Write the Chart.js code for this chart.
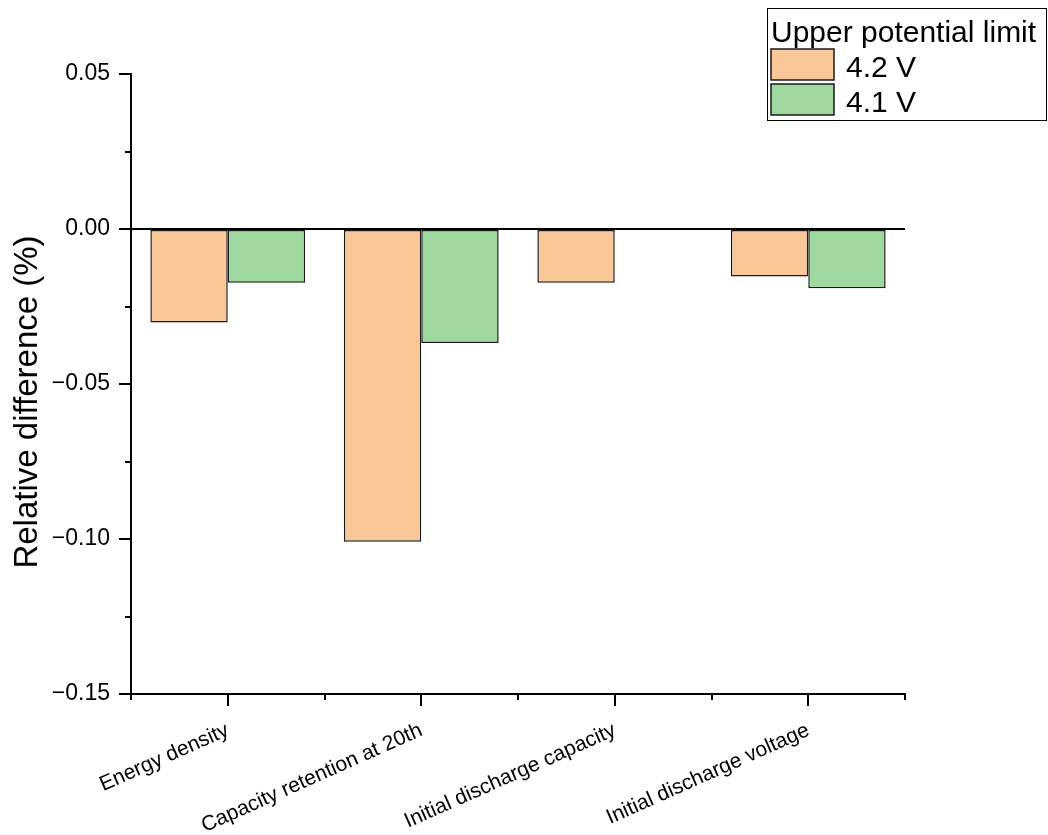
<!DOCTYPE html>
<html>
<head>
<meta charset="utf-8">
<script src="https://cdn.jsdelivr.net/npm/chart.js@4.4.1/dist/chart.umd.min.js"></script>
<style>
  html, body { margin: 0; padding: 0; background: #ffffff; }
  #wrap { width: 1048px; height: 835px; }
</style>
</head>
<body>
<div id="wrap"><canvas id="chart" width="1048" height="835"></canvas></div>
<script>
// Relative difference of each cell property, per upper potential limit
const categories = [
  'Energy density',
  'Capacity retention at 20th',
  'Initial discharge capacity',
  'Initial discharge voltage'
];
const seriesNames = ['4.2 V', '4.1 V'];
const values42 = [-0.0302, -0.1009, -0.0173, -0.0153];
const values41 = [-0.0173, -0.0368, null, -0.0191];

const yMin = -0.15;
const yMax = 0.05;
const yStep = 0.05;

const legendTitle = 'Upper potential limit';
const yTitle = 'Relative difference (%)';

const FONT = '"Liberation Sans", Arial, sans-serif';
const INK = '#000000';
const BAR_EDGE = '#1a1a1a';
const COLORS = ['#FAC898', '#9ED89E'];

function fmtTick(v) {
  if (Math.abs(v) < 1e-9) v = 0;
  return v.toFixed(2).replace('-', '\u2212');
}

// Minor tick marks between the labelled ones on both axes
const minorTicks = {
  id: 'minorTicks',
  afterDraw(chart) {
    const ctx = chart.ctx;
    const x = chart.scales.x, y = chart.scales.y;
    ctx.save();
    ctx.strokeStyle = INK;
    ctx.lineWidth = 2;
    ctx.beginPath();
    for (let i = 0; i <= categories.length; i++) {
      const px = Math.round(x.getPixelForValue(i - 0.5));
      ctx.moveTo(px, y.bottom);
      ctx.lineTo(px, y.bottom + 6);
    }
    for (let v = yMin + yStep / 2; v < yMax; v += yStep) {
      const py = Math.round(y.getPixelForValue(v));
      ctx.moveTo(x.left, py);
      ctx.lineTo(x.left - 6, py);
    }
    ctx.stroke();
    ctx.restore();
  }
};

// Baseline at zero drawn over the bars
const zeroLine = {
  id: 'zeroLine',
  afterDatasetsDraw(chart) {
    const ctx = chart.ctx;
    const area = chart.chartArea;
    const py = Math.round(chart.scales.y.getPixelForValue(0));
    ctx.save();
    ctx.strokeStyle = INK;
    ctx.lineWidth = 2;
    ctx.beginPath();
    ctx.moveTo(area.left, py);
    ctx.lineTo(area.right, py);
    ctx.stroke();
    ctx.restore();
  }
};

// Vertical axis title
const axisTitle = {
  id: 'axisTitle',
  afterDraw(chart) {
    const ctx = chart.ctx;
    ctx.save();
    ctx.translate(28, 402);
    ctx.rotate(-Math.PI / 2);
    ctx.font = '33px ' + FONT;
    ctx.fillStyle = INK;
    ctx.textAlign = 'center';
    ctx.textBaseline = 'middle';
    ctx.fillText(yTitle, 0, 0);
    ctx.restore();
  }
};

// Boxed legend with a title row and one swatch row per series
const boxLegend = {
  id: 'boxLegend',
  afterDraw(chart) {
    const ctx = chart.ctx;
    const bx = 767, by = 8, bw = 279, bh = 112;
    ctx.save();
    ctx.fillStyle = '#ffffff';
    ctx.fillRect(bx, by, bw, bh);
    ctx.strokeStyle = INK;
    ctx.lineWidth = 1;
    ctx.strokeRect(bx + 0.5, by + 0.5, bw, bh);
    ctx.font = '30px ' + FONT;
    ctx.fillStyle = INK;
    ctx.textAlign = 'left';
    ctx.textBaseline = 'alphabetic';
    ctx.fillText(legendTitle, 771, 42);
    chart.data.datasets.forEach((ds, i) => {
      const sy = 49 + i * 35;
      ctx.fillStyle = ds.backgroundColor;
      ctx.fillRect(771, sy, 63, 31);
      ctx.strokeStyle = BAR_EDGE;
      ctx.lineWidth = 1.5;
      ctx.strokeRect(771, sy, 63, 31);
      ctx.fillStyle = INK;
      ctx.fillText(ds.label, 846, sy + 28);
    });
    ctx.restore();
  }
};

new Chart(document.getElementById('chart'), {
  type: 'bar',
  data: {
    labels: categories,
    datasets: [
      {
        label: seriesNames[0],
        data: values42,
        backgroundColor: COLORS[0],
        borderColor: BAR_EDGE,
        borderWidth: 1.5,
        borderSkipped: false
      },
      {
        label: seriesNames[1],
        data: values41,
        backgroundColor: COLORS[1],
        borderColor: BAR_EDGE,
        borderWidth: 1.5,
        borderSkipped: false
      }
    ]
  },
  options: {
    responsive: false,
    animation: false,
    devicePixelRatio: 1,
    layout: { padding: { left: 0, top: 74, right: 143, bottom: 0 } },
    datasets: { bar: { categoryPercentage: 0.8, barPercentage: 1.0 } },
    plugins: {
      legend: { display: false },
      title: { display: false },
      tooltip: { enabled: false }
    },
    scales: {
      x: {
        type: 'category',
        offset: true,
        afterFit(scale) { scale.height = 141; },
        grid: {
          display: true,
          offset: false,
          drawOnChartArea: false,
          drawTicks: true,
          tickLength: 12,
          lineWidth: 2,
          color: INK
        },
        border: { display: true, color: INK, width: 2 },
        ticks: {
          autoSkip: false,
          minRotation: 24,
          maxRotation: 24,
          padding: 12,
          color: INK,
          font: { family: FONT, size: 21 }
        }
      },
      y: {
        min: yMin,
        max: yMax,
        afterFit(scale) { scale.width = 131; },
        grid: {
          display: true,
          drawOnChartArea: false,
          drawTicks: true,
          tickLength: 12,
          lineWidth: 2,
          color: INK
        },
        border: { display: true, color: INK, width: 2 },
        ticks: {
          stepSize: yStep,
          padding: 9,
          color: INK,
          font: { family: FONT, size: 23 },
          callback: (v) => fmtTick(v)
        }
      }
    }
  },
  plugins: [zeroLine, minorTicks, axisTitle, boxLegend]
});
</script>
</body>
</html>
